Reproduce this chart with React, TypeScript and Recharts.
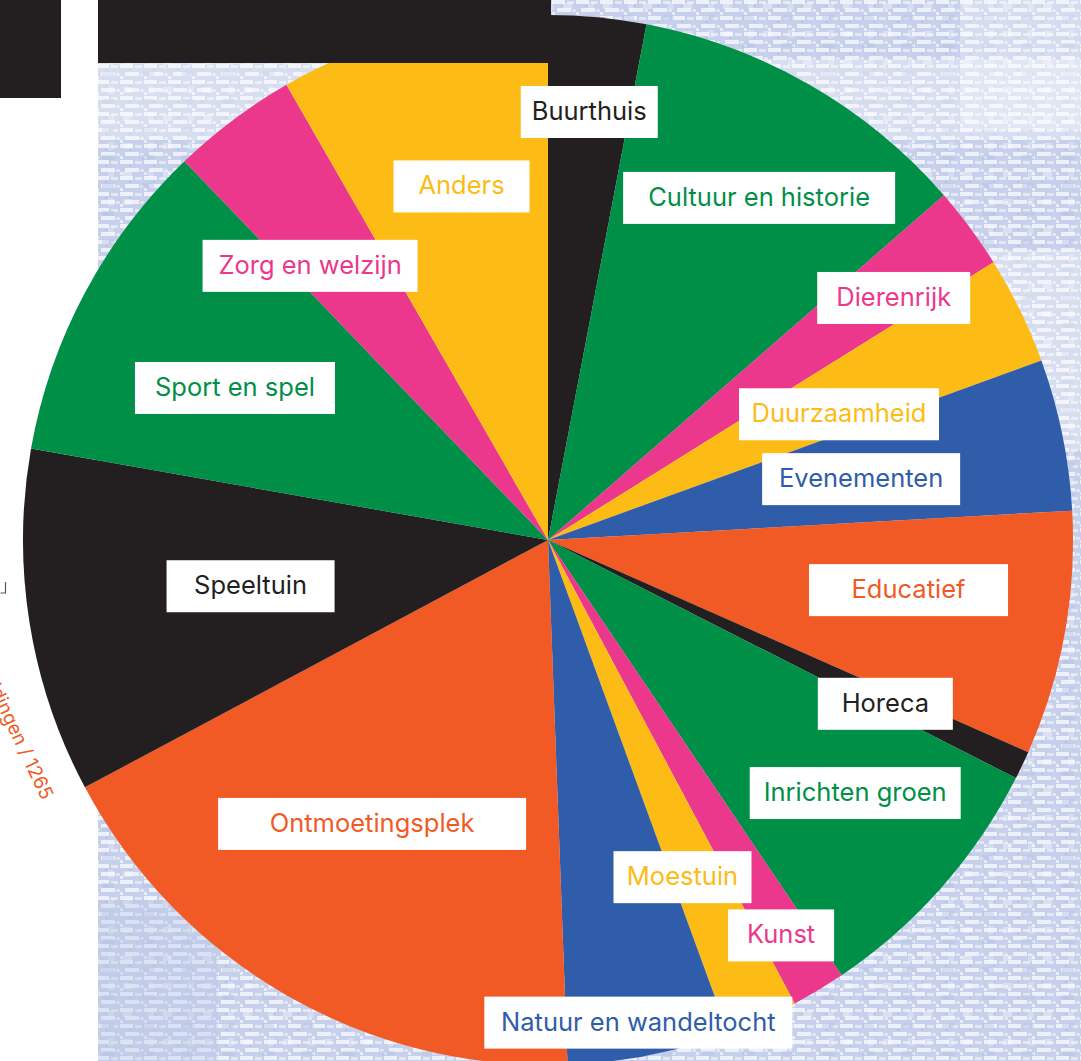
import { PieChart, Pie, Cell } from "recharts";

// categories in clockwise order starting at 12 o'clock
const categories = [
  "Buurthuis",
  "Cultuur en historie",
  "Dierenrijk",
  "Duurzaamheid",
  "Evenementen",
  "Educatief",
  "Horeca",
  "Inrichten groen",
  "Kunst",
  "Moestuin",
  "Natuur en wandeltocht",
  "Ontmoetingsplek",
  "Speeltuin",
  "Sport en spel",
  "Zorg en welzijn",
  "Anders",
];

// aantal inzendingen per categorie (totaal 1265)
const counts = [38, 134, 32, 42, 59, 95, 11, 102, 21, 28, 63, 225, 134, 127, 49, 105];

const total = 1265;

const BLACK = "#231f20";
const GREEN = "#008f47";
const PINK = "#ec388c";
const YELLOW = "#fcbc15";
const BLUE = "#305da9";
const ORANGE = "#f15a24";

const sliceColors = [
  BLACK, GREEN, PINK, YELLOW, BLUE, ORANGE, BLACK, GREEN,
  PINK, YELLOW, BLUE, ORANGE, BLACK, GREEN, PINK, YELLOW,
];

// label layout: distance from centre, angular nudge (deg, clockwise), box width
const labelRadius = [430, 402, 422, 317, 319, 364, 375, 398, 459, 363, 491, 334, 301, 348, 363, 364];
const labelShift = [0.1, 1.8, 1.5, 2.6, 0.6, -2.4, 0.5, -2.0, 0.5, 2.3, 0.5, 1.9, 0.2, -2.2, -4.1, 1.2];
const boxWidth = [137, 272, 153, 200, 198, 199, 135, 211, 106, 138, 308, 308, 168, 200, 215, 136];

const data = categories.map((name, i) => ({ name, value: counts[i] }));

const RAD = Math.PI / 180;
const W = 1081;
const H = 1061;

function renderLabel(props: any) {
  const { cx, cy, midAngle, index } = props;
  const a = (midAngle - labelShift[index]) * RAD;
  const r = labelRadius[index];
  const x = cx + r * Math.cos(a);
  const y = cy - r * Math.sin(a);
  const w = boxWidth[index];
  return (
    <g key={`lbl-${index}`}>
      <rect x={x - w / 2} y={y - 26} width={w} height={52} fill="#ffffff" />
      <text
        x={x}
        y={y - 1.5}
        textAnchor="middle"
        dominantBaseline="central"
        fill={sliceColors[index]}
        fontSize={25.5}
        fontFamily="Inter, 'Noto Sans', sans-serif"
      >
        {categories[index]}
      </text>
    </g>
  );
}

function Background() {
  return (
    <svg width={W} height={H} style={{ position: "absolute", left: 0, top: 0 }}>
      <defs>
        <pattern id="weave" width="24" height="16" patternUnits="userSpaceOnUse">
          <rect width="24" height="16" fill="#c6d0ea" />
          <rect x="0" y="0" width="13" height="4" fill="#f5f7fd" opacity="0.85" />
          <rect x="15" y="1" width="7" height="3" fill="#e2e8f6" />
          <rect x="5" y="8" width="14" height="4" fill="#f7f8fd" opacity="0.8" />
          <rect x="20" y="9" width="4" height="3" fill="#dfe5f4" />
          <rect x="0" y="12" width="3" height="3" fill="#e8ecf8" />
          <rect x="9" y="5" width="3" height="2" fill="#b9c5e5" />
        </pattern>
        <pattern id="weave2" width="40" height="28" patternUnits="userSpaceOnUse">
          <rect x="3" y="3" width="9" height="6" fill="#ffffff" opacity="0.35" />
          <rect x="22" y="15" width="12" height="5" fill="#b4c1e3" opacity="0.4" />
          <rect x="28" y="2" width="6" height="8" fill="#ffffff" opacity="0.25" />
        </pattern>
      </defs>
      <rect x={0} y={0} width={W} height={H} fill="#ffffff" />
      <rect x={98} y={0} width={W - 98} height={H} fill="url(#weave)" />
      <rect x={98} y={0} width={W - 98} height={H} fill="url(#weave2)" />
      {/* lighter bands of the fabric */}
      <rect x={98} y={60} width={W - 98} height={80} fill="#ffffff" opacity={0.3} />
      <rect x={960} y={250} width={121} height={200} fill="#ffffff" opacity={0.3} />
      <rect x={960} y={0} width={121} height={130} fill="#ffffff" opacity={0.25} />
      <rect x={98} y={900} width={120} height={161} fill="#b7c5e6" opacity={0.35} />
    </svg>
  );
}

function Overlay() {
  return (
    <svg width={W} height={H} style={{ position: "absolute", left: 0, top: 0, pointerEvents: "none" }}>
      <rect x={0} y={0} width={61} height={98} fill={BLACK} />
      <rect x={98} y={0} width={453} height={63} fill={BLACK} />
      <path d="M0.5 593 H5.5 V582" stroke="#555" strokeWidth={1.2} fill="none" />
      <text
        x={42}
        y={801}
        textAnchor="end"
        fill={ORANGE}
        fontSize={19}
        fontFamily="Inter, 'Noto Sans', sans-serif"
        transform="rotate(64.7 42 801)"
      >
        {`Aanmeldingen / ${total}`}
      </text>
    </svg>
  );
}

export default function App() {
  return (
    <div style={{ position: "absolute", left: 0, top: 0, width: W, height: H, overflow: "hidden" }}>
      <Background />
      <div style={{ position: "absolute", left: 0, top: 0 }}>
        <PieChart width={W} height={H} margin={{ top: 0, right: 0, bottom: 0, left: 0 }}>
          <Pie
            data={data}
            dataKey="value"
            nameKey="name"
            cx={548}
            cy={540}
            outerRadius={525}
            startAngle={90}
            endAngle={-270}
            stroke="none"
            label={renderLabel}
            labelLine={false}
            isAnimationActive={false}
          >
            {data.map((d, i) => (
              <Cell key={d.name} fill={sliceColors[i]} />
            ))}
          </Pie>
        </PieChart>
      </div>
      <Overlay />
    </div>
  );
}
